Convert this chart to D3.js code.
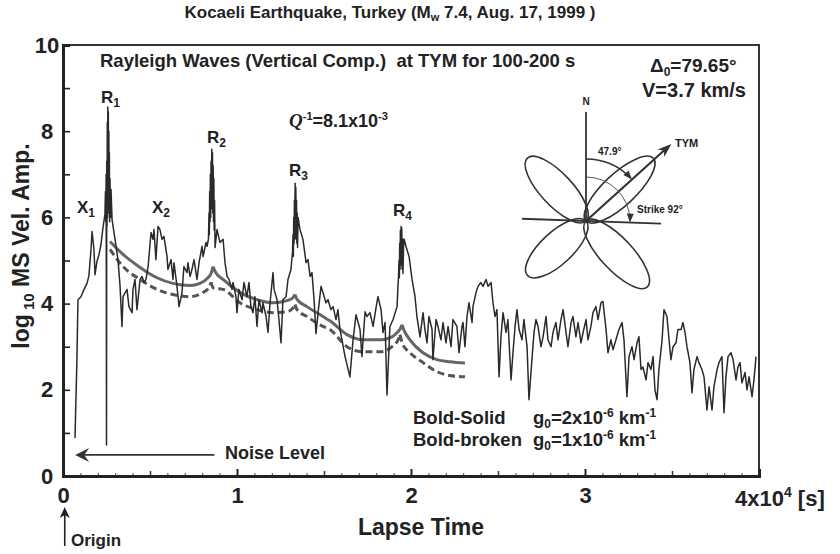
<!DOCTYPE html>
<html>
<head>
<meta charset="utf-8">
<script src="https://cdn.jsdelivr.net/npm/d3@7"></script>
<style>
  body { margin: 0; background: #fff; }
  svg text { font-family: "Liberation Sans", Arial, Helvetica, sans-serif; font-weight: bold; fill: #222; white-space: pre; }
</style>
</head>
<body>
<div id="chart"></div>
<script>
// Lapse time in units of 10^4 s, log10 of mean-square velocity amplitude
const traceTime = [
  0.069,0.080,0.086,0.103,0.121,0.138,0.149,0.161,0.167,0.178,0.184,0.195,0.207,0.218,0.230,0.241,
  0.244,0.246,0.248,0.250,0.2515,0.253,0.2545,0.256,0.2575,0.259,0.2605,0.262,0.2635,0.265,0.2665,0.268,
  0.270,0.273,0.276,0.282,
  0.299,0.316,0.328,0.339,0.345,0.368,0.379,0.397,0.402,0.414,0.425,0.443,0.454,0.466,0.477,0.489,
  0.506,0.517,0.523,0.534,0.546,0.557,0.569,0.580,0.598,0.603,0.621,0.632,0.638,0.655,0.667,0.684,
  0.695,0.713,0.718,0.730,0.741,0.753,0.770,0.782,0.799,0.805,0.822,0.828,
  0.836,0.839,0.841,0.843,0.845,0.847,0.849,0.851,0.853,0.855,0.857,0.859,0.861,0.863,0.865,0.867,0.869,
  0.871,0.874,
  0.885,0.902,0.920,0.931,0.943,0.954,0.971,0.977,0.994,1.000,1.011,1.029,1.040,1.057,1.069,1.080,1.092,
  1.103,1.115,1.126,1.144,1.149,1.167,1.178,1.190,1.207,1.213,1.230,1.241,1.253,1.264,1.282,1.293,1.310,
  1.319,1.322,1.324,1.326,1.328,1.330,1.332,1.334,1.336,1.338,1.340,1.342,1.344,1.346,1.348,1.351,
  1.362,1.379,1.397,1.408,1.420,1.431,1.443,1.454,1.466,1.483,1.494,1.511,1.523,1.540,1.552,1.569,1.580,
  1.592,1.621,1.649,1.667,1.684,1.707,1.718,1.736,1.747,1.764,1.782,1.799,1.810,1.828,1.839,1.851,1.862,
  1.879,1.897,1.920,1.925,
  1.928,1.931,1.933,1.935,1.937,1.939,1.941,1.943,1.945,1.947,1.949,1.951,1.954,1.957,1.960,
  1.971,1.989,2.006,2.023,2.034,2.052,2.069,2.080,2.092,2.103,2.121,2.126,2.144,2.155,2.172,2.184,2.201,
  2.213,2.230,2.241,2.264,
  2.276,2.293,2.299,2.310,2.322,2.333,2.351,2.356,2.374,2.385,2.402,2.414,2.431,2.443,2.460,2.471,2.483,
  2.494,2.506,2.517,2.529,2.546,2.557,2.575,2.586,2.598,2.609,2.621,2.638,2.649,2.667,2.678,2.695,2.707,
  2.718,2.730,2.747,2.759,2.776,2.787,2.805,2.816,2.833,2.845,2.862,2.874,2.891,2.902,2.920,2.931,2.948,
  2.960,2.977,2.989,3.006,3.017,3.034,3.046,3.063,3.075,
  3.092,3.103,3.121,3.132,3.149,3.161,3.178,3.195,3.213,3.224,3.241,3.253,3.270,3.282,3.299,3.310,3.322,
  3.333,3.351,3.362,3.379,3.391,3.402,3.414,3.425,3.443,3.454,3.471,3.483,3.494,3.506,3.523,3.534,3.552,
  3.563,3.575,3.586,3.603,3.615,3.626,3.644,3.655,3.672,3.684,3.701,3.713,3.730,3.741,3.759,3.770,3.787,
  3.799,3.810,3.822,3.839,3.851,3.868,3.879,3.891,3.902,3.920,3.931,3.943,3.960,3.971,3.983
];
const traceAmp = [
  0.88,2.7,4.09,4.16,4.33,4.47,4.65,5.26,5.67,5.26,4.67,4.98,5.14,5.37,5.77,6.07,
  6.6,5.9,7.0,0.72,7.3,5.8,8.2,6.0,8.56,6.4,8.45,6.2,8.0,6.1,7.5,5.9,
  6.9,6.0,6.65,5.95,
  5.49,5.02,4.4,3.47,4.16,4.33,3.93,3.79,4.33,4.56,3.86,4.56,4.63,4.49,4.56,4.86,
  5.65,5.49,5.72,5.02,5.79,5.72,5.49,5.56,5.09,4.79,5.02,4.56,4.95,4.4,3.93,4.26,
  4.86,4.72,4.95,4.63,4.79,5.02,4.56,4.95,5.33,5.09,5.42,5.33,
  5.5,6.1,5.6,6.6,5.9,7.0,6.0,7.3,6.2,7.58,6.3,7.5,6.1,7.2,5.9,6.9,5.7,
  6.4,5.3,
  5.72,5.42,5.49,4.95,4.63,4.56,4.33,4.49,4.16,3.79,4.33,4.09,4.49,4.16,4.49,3.93,3.79,
  4.16,3.47,4.09,3.79,4.02,3.70,3.33,4.02,4.72,4.33,4.09,3.63,3.09,4.09,4.16,4.56,4.79,
  5.2,5.6,5.1,6.0,5.4,6.4,5.5,6.79,5.6,6.7,5.5,6.4,5.4,6.1,5.3,6.0,
  5.72,5.49,4.95,5.02,4.63,4.72,4.09,3.3,3.79,4.4,4.26,4.02,4.09,3.86,3.93,3.63,3.86,
  3.40,2.77,2.30,3.16,3.74,3.40,2.77,3.81,3.70,3.79,3.47,3.9,4.16,3.86,3.33,3.56,1.88,
  3.47,3.63,3.93,4.40,
  4.6,5.0,4.6,5.4,4.8,5.7,4.9,5.79,4.9,5.75,4.8,5.5,4.7,5.3,5.5,
  5.33,5.09,4.56,4.16,3.70,3.23,3.79,3.40,3.09,3.70,3.40,2.70,3.63,3.47,3.16,3.56,3.09,
  3.47,3.00,3.63,3.47,
  2.86,3.47,3.56,3.0,3.70,4.02,3.56,3.93,4.26,4.40,4.49,4.40,4.56,4.40,4.49,4.02,3.70,
  3.86,2.30,3.23,3.79,3.33,3.63,2.23,2.86,3.47,3.86,3.40,3.16,3.63,3.00,1.77,2.70,3.33,
  3.63,3.47,3.00,3.23,3.70,3.16,3.00,3.33,3.56,3.16,3.63,3.86,3.33,3.00,3.56,3.70,3.23,
  3.56,3.09,3.33,3.63,3.16,3.47,3.79,3.93,3.63,
  4.02,4.05,3.40,2.86,3.16,2.93,3.16,3.40,3.56,3.16,1.84,2.77,3.00,2.70,3.09,3.23,2.47,
  2.53,2.23,2.63,2.47,2.77,2.00,1.77,2.47,3.16,3.86,3.70,3.16,2.70,3.00,3.09,3.40,3.40,
  3.56,3.33,3.00,2.63,1.93,2.47,2.77,2.63,2.47,2.30,1.53,2.07,1.53,2.07,2.47,2.63,2.77,
  1.47,2.30,2.77,2.86,2.70,2.23,2.53,2.63,2.16,2.40,2.00,2.30,1.84,2.23,2.77
];

// Theoretical envelopes (bold solid g0=2e-6, bold broken g0=1e-6)
const solidTime = [0.270,0.345,0.443,0.540,0.632,0.730,0.787,0.833,0.852,0.862,
  0.875,0.920,1.017,1.115,1.207,1.287,1.320,1.333,
  1.345,1.402,1.494,1.534,1.632,1.724,1.822,1.891,1.925,1.940,1.948,
  1.960,1.994,2.069,2.149,2.224,2.310];
const solidAmp = [5.44,5.14,4.84,4.60,4.47,4.42,4.47,4.60,4.71,4.86,
  4.74,4.56,4.26,4.09,4.02,4.07,4.13,4.21,
  4.10,3.93,3.70,3.60,3.28,3.16,3.16,3.23,3.35,3.43,3.51,
  3.38,3.16,2.86,2.70,2.65,2.62];
const solidCusps = [0.862, 1.333, 1.948];

const brokenTime = [0.270,0.345,0.443,0.540,0.632,0.730,0.805,0.840,0.851,
  0.865,0.920,1.017,1.115,1.207,1.287,1.320,1.333,
  1.345,1.402,1.494,1.534,1.632,1.724,1.822,1.891,1.927,1.937,
  1.950,1.994,2.069,2.149,2.224,2.310];
const brokenAmp = [5.26,4.86,4.56,4.33,4.21,4.16,4.26,4.38,4.49,
  4.36,4.33,4.02,3.86,3.79,3.81,3.89,3.98,
  3.86,3.70,3.47,3.40,3.00,2.88,2.88,3.00,3.17,3.28,
  3.08,2.86,2.63,2.42,2.33,2.30];
const brokenCusps = [0.851, 1.333, 1.937];

// Phase labels
const phaseNames = ['R', 'R', 'R', 'R', 'X', 'X'];
const phaseSubs = ['1', '2', '3', '4', '1', '2'];
const phaseTime = [0.218, 0.828, 1.299, 1.897, 0.080, 0.511];
const phaseAmp = [8.65, 7.73, 6.96, 6.03, 6.10, 6.10];

const xTickValues = [0, 1, 2, 3, 4];
const yTickValues = [0, 2, 4, 6, 8, 10];
const noiseLevel = 0.49;

const width = 840, height = 554;
const margin = { top: 45, right: 81, bottom: 78, left: 63 };

const svg = d3.select('#chart').append('svg')
  .attr('width', width)
  .attr('height', height);

const x = d3.scaleLinear().domain([0, 4]).range([margin.left, width - margin.right]);
const y = d3.scaleLinear().domain([0, 10]).range([height - margin.bottom, margin.top]);

// Frame
svg.append('rect')
  .attr('x', x(0)).attr('y', y(10))
  .attr('width', x(4) - x(0)).attr('height', y(0) - y(10))
  .attr('fill', 'none').attr('stroke', '#333').attr('stroke-width', 2);

// Minor x ticks
svg.append('g')
  .attr('transform', `translate(0,${y(0)})`)
  .call(d3.axisBottom(x).tickValues(d3.range(0, 40).map(i => i / 10)).tickSize(-3).tickFormat(''))
  .call(g => g.select('.domain').remove())
  .call(g => g.selectAll('line').attr('stroke', '#444'));
svg.append('g')
  .attr('transform', `translate(0,${y(0)})`)
  .call(d3.axisBottom(x).tickValues([0.5, 1.5, 2.5, 3.5]).tickSize(-5).tickFormat(''))
  .call(g => g.select('.domain').remove())
  .call(g => g.selectAll('line').attr('stroke', '#333').attr('stroke-width', 1.5));

// Major x axis
const xAxis = svg.append('g')
  .attr('transform', `translate(0,${y(0)})`)
  .call(d3.axisBottom(x).tickValues(xTickValues).tickSize(-7).tickPadding(11)
    .tickFormat(d => d < 4 ? d : ''));
xAxis.select('.domain').attr('stroke', '#222').attr('stroke-width', 3);
xAxis.selectAll('line').attr('stroke', '#222').attr('stroke-width', 2);
xAxis.selectAll('text').attr('font-size', 22).attr('fill', '#222');

// y axis
const yAxis = svg.append('g')
  .attr('transform', `translate(${x(0)},0)`)
  .call(d3.axisLeft(y).tickValues(d3.range(0, 11)).tickSize(-7)
    .tickFormat(d => yTickValues.includes(d) ? d : ''));
yAxis.select('.domain').attr('stroke', '#222').attr('stroke-width', 3);
yAxis.selectAll('line').attr('stroke', '#222').attr('stroke-width', 1.6);
yAxis.selectAll('text').attr('font-size', 22).attr('fill', '#222')
  .attr('text-anchor', 'middle').attr('x', -16);

// "4x10^4 [s]" label at the end of the x axis
const endLabel = svg.append('text')
  .attr('x', x(4) - 24).attr('y', y(0) + 30)
  .attr('font-size', 22);
endLabel.append('tspan').text('4x10');
endLabel.append('tspan').attr('font-size', 14).attr('dy', -9).text('4');
endLabel.append('tspan').attr('dy', 9).text(' [s]');

// Theoretical curves, split at each direct-arrival cusp
function splitAtCusps(ts, vs, cusps) {
  const segs = [];
  let cur = [];
  ts.forEach((t, i) => {
    cur.push([t, vs[i]]);
    if (cusps.includes(t)) { segs.push(cur); cur = [[t, vs[i]]]; }
  });
  if (cur.length > 1) segs.push(cur);
  return segs;
}
const smooth = d3.line().x(d => x(d[0])).y(d => y(d[1])).curve(d3.curveMonotoneX);

svg.append('path')
  .attr('d', splitAtCusps(brokenTime, brokenAmp, brokenCusps).map(smooth).join(''))
  .attr('fill', 'none').attr('stroke', '#555').attr('stroke-width', 3)
  .attr('stroke-dasharray', '7,4');

svg.append('path')
  .attr('d', splitAtCusps(solidTime, solidAmp, solidCusps).map(smooth).join(''))
  .attr('fill', 'none').attr('stroke', '#666').attr('stroke-width', 3);

// Observed envelope
const traceLine = d3.line()
  .x(i => x(traceTime[i]))
  .y(i => y(traceAmp[i]));
svg.append('path')
  .attr('d', traceLine(d3.range(traceTime.length)))
  .attr('fill', 'none').attr('stroke', '#2a2a2a').attr('stroke-width', 1.5)
  .attr('stroke-linejoin', 'round');

// Phase labels
phaseNames.forEach((n, i) => {
  const t = svg.append('text')
    .attr('x', x(phaseTime[i])).attr('y', y(phaseAmp[i]))
    .attr('font-size', 17);
  t.append('tspan').text(n);
  t.append('tspan').attr('font-size', 12).attr('dy', 4).text(phaseSubs[i]);
});

// Headings inside the frame
svg.append('text').attr('x', 100).attr('y', 67).attr('font-size', 18.5)
  .text('Rayleigh Waves (Vertical Comp.)  at TYM for 100-200 s');

const delta = svg.append('text').attr('x', 650).attr('y', 72).attr('font-size', 19);
delta.append('tspan').text('\u0394');
delta.append('tspan').attr('font-size', 12).attr('dy', 4).text('0');
delta.append('tspan').attr('dy', -4).text('=79.65\u00b0');
svg.append('text').attr('x', 642).attr('y', 97).attr('font-size', 20).text('V=3.7 km/s');

const q = svg.append('text').attr('x', 289).attr('y', 127).attr('font-size', 18);
q.append('tspan').attr('font-family', '"Liberation Serif", "Times New Roman", serif')
  .attr('font-style', 'italic').attr('font-size', 19).text('Q');
q.append('tspan').attr('font-size', 11).attr('dy', -7).text('-1');
q.append('tspan').attr('dy', 7).text('=8.1x10');
q.append('tspan').attr('font-size', 11).attr('dy', -7).text('-3');

// Legend
const legendRows = [
  { name: 'Bold-Solid', g: '2' },
  { name: 'Bold-broken', g: '1' }
];
legendRows.forEach((r, i) => {
  const yy = 424 + i * 22;
  svg.append('text').attr('x', 413).attr('y', yy).attr('font-size', 18.5).text(r.name);
  const t = svg.append('text').attr('x', 533).attr('y', yy).attr('font-size', 18.5);
  t.append('tspan').text('g');
  t.append('tspan').attr('font-size', 12).attr('dy', 4).text('0');
  t.append('tspan').attr('dy', -4).text('=' + r.g + 'x10');
  t.append('tspan').attr('font-size', 12).attr('dy', -7).text('-6');
  t.append('tspan').attr('dy', 7).text(' km');
  t.append('tspan').attr('font-size', 12).attr('dy', -7).text('-1');
});

// Noise level arrow
const ny = y(noiseLevel);
svg.append('line')
  .attr('x1', x(0.08)).attr('x2', x(0.87)).attr('y1', ny).attr('y2', ny)
  .attr('stroke', '#333').attr('stroke-width', 1.6);
svg.append('path')
  .attr('d', `M${x(0.07)},${ny} L${x(0.07) + 14},${ny - 7} L${x(0.07) + 9},${ny} L${x(0.07) + 14},${ny + 7} Z`)
  .attr('fill', '#333');
svg.append('text').attr('x', 225).attr('y', 459).attr('font-size', 18).text('Noise Level');

// Origin marker
const ox = x(0.01);
svg.append('line').attr('x1', ox).attr('x2', ox).attr('y1', 546).attr('y2', 514)
  .attr('stroke', '#222').attr('stroke-width', 1.6);
svg.append('path')
  .attr('d', `M${ox},${507} L${ox - 5},${518} L${ox},${515} L${ox + 5},${518} Z`)
  .attr('fill', '#222');
svg.append('text').attr('x', 71).attr('y', 546).attr('font-size', 17).text('Origin');

// Axis titles
svg.append('text').attr('x', 421).attr('y', 535).attr('font-size', 23)
  .attr('text-anchor', 'middle').text('Lapse Time');

const yl = svg.append('text')
  .attr('transform', 'translate(29,246) rotate(-90)')
  .attr('text-anchor', 'middle').attr('font-size', 23);
yl.append('tspan').text('log');
yl.append('tspan').attr('font-size', 15).attr('dy', 5).text(' 10');
yl.append('tspan').attr('dy', -5).text(' MS Vel. Amp.');

// Title
const title = svg.append('text').attr('x', 390).attr('y', 18)
  .attr('text-anchor', 'middle').attr('font-size', 17);
title.append('tspan').text('Kocaeli Earthquake, Turkey (M');
title.append('tspan').attr('font-size', 11).attr('dy', 3).text('w');
title.append('tspan').attr('dy', -3).text(' 7.4, Aug. 17, 1999 )');

// Radiation pattern inset (schematic)
const cx = 586, cy = 221;
const inset = svg.append('g').attr('transform', `translate(${cx},${cy})`);
const petals = [
  { angle: -133, len: 86 },
  { angle: -43, len: 92 },
  { angle: 137, len: 80 },
  { angle: 47, len: 90 }
];
inset.selectAll('ellipse').data(petals).join('ellipse')
  .attr('cx', d => d.len / 2).attr('cy', 0)
  .attr('rx', d => d.len / 2).attr('ry', 16)
  .attr('transform', d => `rotate(${d.angle})`)
  .attr('fill', 'none').attr('stroke', '#333').attr('stroke-width', 1.6);

// North line and strike line
inset.append('line').attr('x1', 0).attr('y1', 0).attr('x2', 0).attr('y2', -109)
  .attr('stroke', '#333').attr('stroke-width', 1.8);
inset.append('line').attr('x1', -64).attr('y1', 0).attr('x2', 75).attr('y2', 0)
  .attr('transform', 'rotate(2)')
  .attr('stroke', '#333').attr('stroke-width', 1.8);
inset.append('text').attr('x', 0).attr('y', -116).attr('text-anchor', 'middle')
  .attr('font-size', 10).text('N');

// Direction to station
const az = 47.9 * Math.PI / 180;
const tipX = 115 * Math.sin(az), tipY = -115 * Math.cos(az);
inset.append('line').attr('x1', 0).attr('y1', 0)
  .attr('x2', tipX - 8 * Math.sin(az)).attr('y2', tipY + 8 * Math.cos(az))
  .attr('stroke', '#333').attr('stroke-width', 2.2);
inset.append('path')
  .attr('d', 'M0,0 L-14,-5 L-10,0 L-14,5 Z')
  .attr('transform', `translate(${tipX},${tipY}) rotate(${47.9 - 90})`)
  .attr('fill', '#333');
inset.append('text').attr('x', 89).attr('y', -74).attr('font-size', 11).text('TYM');

// Azimuth arcs
function arcPath(r, a0, a1) {
  const p = d3.path();
  p.arc(0, 0, r, (a0 - 90) * Math.PI / 180, (a1 - 90) * Math.PI / 180);
  return p.toString();
}
function arcHead(r, a) {
  const rad = (a - 90) * Math.PI / 180;
  const px = r * Math.cos(rad), py = r * Math.sin(rad);
  return inset.append('path')
    .attr('d', 'M0,0 L-9,-3.5 L-9,3.5 Z')
    .attr('transform', `translate(${px},${py}) rotate(${a})`)
    .attr('fill', '#333');
}
inset.append('path').attr('d', arcPath(62, 0, 46)).attr('fill', 'none')
  .attr('stroke', '#333').attr('stroke-width', 1.4);
arcHead(62, 47.9);
inset.append('path').attr('d', arcPath(44, 0, 90)).attr('fill', 'none')
  .attr('stroke', '#555').attr('stroke-width', 1);
arcHead(44, 92);
inset.append('text').attr('x', 12).attr('y', -66).attr('font-size', 10).text('47.9\u00b0');
inset.append('text').attr('x', 51).attr('y', -8).attr('font-size', 10).text('Strike 92\u00b0');
</script>
</body>
</html>
